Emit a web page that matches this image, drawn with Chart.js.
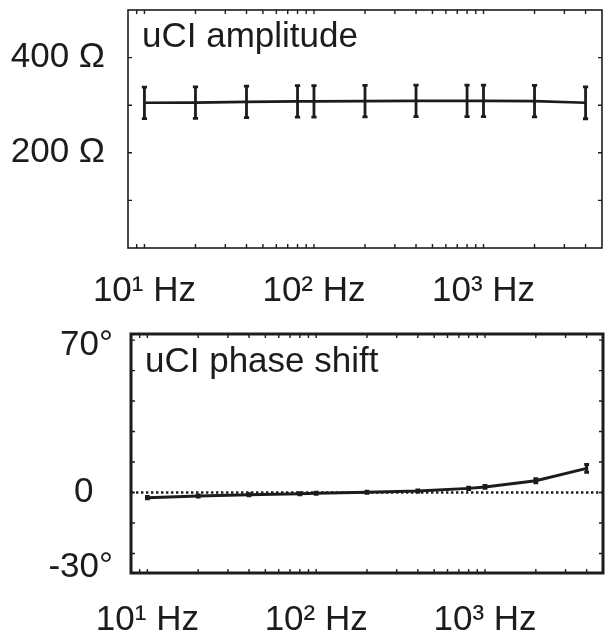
<!DOCTYPE html>
<html><head><meta charset="utf-8">
<script src="https://cdn.jsdelivr.net/npm/chart.js@4/dist/chart.umd.min.js"></script>
<style>
html,body{margin:0;padding:0;background:#fff;}
#wrap{position:relative;width:613px;height:639px;overflow:hidden;}
#c1{position:absolute;left:0;top:0;}
#c2{position:absolute;left:0;top:320px;}
</style></head><body>
<div id="wrap"><canvas id="c1" width="613" height="320"></canvas><canvas id="c2" width="613" height="319"></canvas></div>
<script>
// ---- data ----
const freqs = [10, 20, 40, 80, 100, 200, 400, 800, 1000, 2000, 4000];
const amplitude = [305, 305.5, 307, 308, 308, 308.5, 309, 309, 309, 308.5, 305];
const amplitudeErr = [33, 33, 33, 33, 33, 33, 33, 33, 33, 33, 33.5];
const phase = [-2.1, -1.4, -0.9, -0.5, -0.3, 0.1, 0.6, 1.7, 2.3, 4.8, 9.9];
const phaseErr = [0.5, 0.4, 0.4, 0.4, 0.4, 0.4, 0.4, 0.5, 0.6, 0.8, 1.6];
const xTickValues = [9, 10, 20, 30, 40, 50, 60, 70, 80, 90, 100, 200, 300, 400, 500, 600, 700, 800, 900, 1000, 2000, 3000, 4000];
const xTickLabels = {10: '10¹ Hz', 100: '10² Hz', 1000: '10³ Hz'};
const ampTickValues = [100, 200, 300, 400];
const ampTickLabels = {200: '200 Ω', 400: '400 Ω'};
const phaseTickValues = [-25, -12.5, 0, 12.5, 25, 37.5, 50, 62.5];
const phaseLabelValues = [-30.5, 0, 60.5];
const phaseTickLabels = ['-30°', '0\u2007', '70°'];
const titles = ['uCI amplitude', 'uCI phase shift'];

const INK = '#1c1c1c';
const FONT = "'Liberation Sans', Arial, Helvetica, sans-serif";
const FS = 35;

const framePlugin = {
  id: 'frame',
  afterDraw(chart, args, o) {
    const {ctx, chartArea: a} = chart;
    const x = chart.scales.x, y = chart.scales.y;
    ctx.save();
    ctx.strokeStyle = INK;
    ctx.lineWidth = 1.4;
    ctx.beginPath();
    for (const v of o.xTicks) {
      const px = x.getPixelForValue(v);
      ctx.moveTo(px, a.bottom); ctx.lineTo(px, a.bottom - o.tl);
      ctx.moveTo(px, a.top); ctx.lineTo(px, a.top + o.tl);
    }
    for (const v of o.yTicks) {
      const py = y.getPixelForValue(v);
      ctx.moveTo(a.left, py); ctx.lineTo(a.left + o.tl, py);
      ctx.moveTo(a.right, py); ctx.lineTo(a.right - o.tl, py);
    }
    ctx.stroke();
    ctx.lineWidth = o.lw;
    ctx.strokeRect(a.left, a.top, a.right - a.left, a.bottom - a.top);
    ctx.fillStyle = INK;
    ctx.font = o.titleFont;
    ctx.textBaseline = 'alphabetic';
    ctx.textAlign = 'left';
    ctx.fillText(o.title, a.left + o.tx, a.top + o.ty);
    ctx.restore();
  }
};

const errPlugin = {
  id: 'errbars',
  afterDatasetsDraw(chart, args, o) {
    const {ctx} = chart;
    const x = chart.scales.x, y = chart.scales.y;
    ctx.save();
    ctx.strokeStyle = INK;
    ctx.lineWidth = o.lw;
    ctx.beginPath();
    o.vals.forEach((v, i) => {
      const px = x.getPixelForValue(o.xs[i]);
      const y1 = y.getPixelForValue(v - o.errs[i]);
      const y2 = y.getPixelForValue(v + o.errs[i]);
      ctx.moveTo(px, y1); ctx.lineTo(px, y2);
      ctx.moveTo(px - o.cap, y1); ctx.lineTo(px + o.cap, y1);
      ctx.moveTo(px - o.cap, y2); ctx.lineTo(px + o.cap, y2);
    });
    ctx.stroke();
    ctx.restore();
  }
};

function makeChart(canvas, cfg) {
  return new Chart(canvas, {
    type: 'line',
    data: {datasets: cfg.datasets},
    options: {
      responsive: false, animation: false, events: [],
      layout: {padding: cfg.padding},
      plugins: {
        legend: {display: false}, tooltip: {enabled: false},
        frame: cfg.frame, errbars: cfg.err
      },
      scales: {
        x: {
          type: 'logarithmic', min: 8, max: 5000,
          afterBuildTicks: s => { s.ticks = xTickValues.map(v => ({value: v})); },
          afterFit: s => { s.height = cfg.xHeight; s.paddingLeft = 0; s.paddingRight = 0; },
          grid: {display: false}, border: {display: false},
          ticks: {
            autoSkip: false, maxRotation: 0, minRotation: 0, padding: cfg.xPad,
            color: INK, font: {family: FONT, size: FS},
            callback: v => xTickLabels[v] || ''
          }
        },
        y: {
          type: 'linear', min: cfg.yMin, max: cfg.yMax,
          afterBuildTicks: cfg.yBuild,
          afterFit: s => { s.width = cfg.yWidth; s.paddingTop = 0; s.paddingBottom = 0; },
          grid: {display: false}, border: {display: false},
          ticks: {
            autoSkip: false, padding: cfg.yPad,
            color: INK, font: {family: FONT, size: FS},
            callback: cfg.yLabel
          }
        }
      }
    },
    plugins: [errPlugin, framePlugin]
  });
}

makeChart(document.getElementById('c1'), {
  datasets: [{
    data: freqs.map((f, i) => ({x: f, y: amplitude[i]})),
    borderColor: INK, borderWidth: 2.6, pointRadius: 0, tension: 0, fill: false
  }],
  padding: {top: 10, right: 11, left: 0, bottom: 0},
  xHeight: 72, xPad: 14, yWidth: 128, yPad: 15, yMin: 0, yMax: 500,
  yBuild: s => { s.ticks = ampTickValues.map(v => ({value: v})); },
  yLabel: v => ampTickLabels[v] || '',
  frame: {xTicks: xTickValues, yTicks: ampTickValues, tl: 4, lw: 1.6,
          title: titles[0], titleFont: FS + 'px ' + FONT, tx: 14, ty: 37},
  err: {xs: freqs, vals: amplitude, errs: amplitudeErr, lw: 2.8, cap: 2.6}
});

makeChart(document.getElementById('c2'), {
  datasets: [
    {
      data: [{x: 8, y: 0}, {x: 5000, y: 0}],
      borderColor: INK, borderWidth: 2.4, borderDash: [2.4, 2.6], pointRadius: 0, fill: false
    },
    {
      data: freqs.map((f, i) => ({x: f, y: phase[i]})),
      borderColor: INK, borderWidth: 3, pointRadius: 0, tension: 0, fill: false
    }
  ],
  padding: {top: 14, right: 10, left: 0, bottom: 0},
  xHeight: 66, xPad: 18, yWidth: 131, yPad: 10, yMin: -33, yMax: 65,
  yBuild: s => { s.ticks = phaseLabelValues.map(v => ({value: v})); },
  yLabel: (v, i) => phaseTickLabels[i] || '',
  frame: {xTicks: xTickValues, yTicks: phaseTickValues, tl: 4, lw: 3,
          title: titles[1], titleFont: FS + 'px ' + FONT, tx: 14, ty: 38},
  err: {xs: freqs, vals: phase, errs: phaseErr, lw: 3, cap: 2.4}
});
</script>
</body></html>
